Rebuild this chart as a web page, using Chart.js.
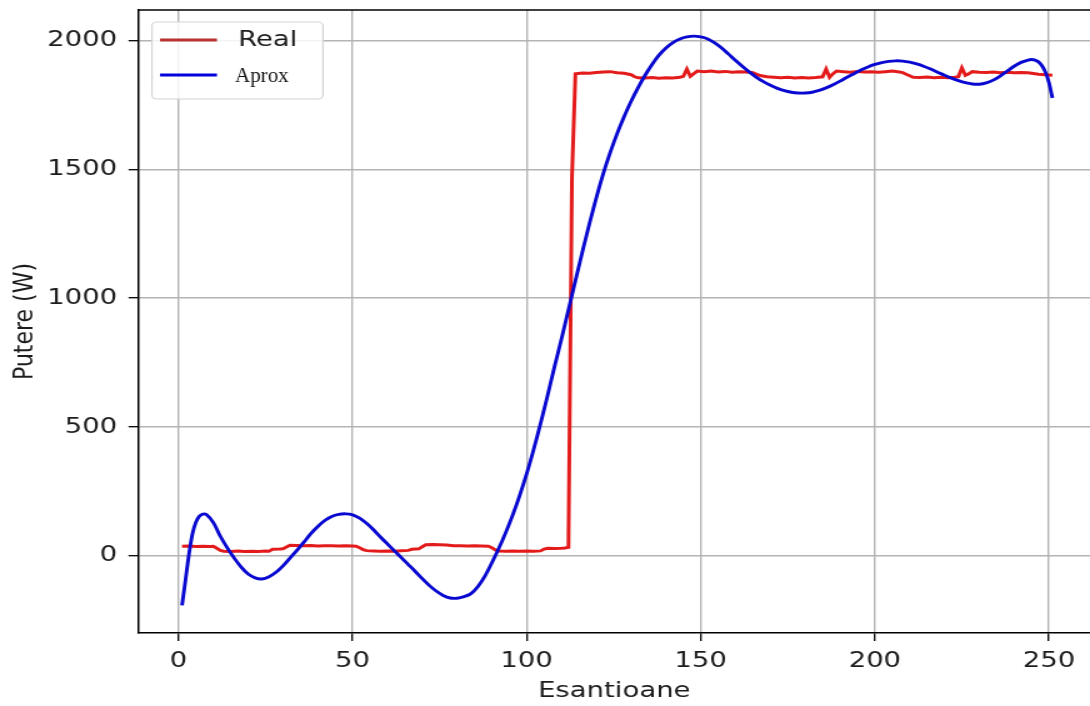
<!DOCTYPE html>
<html>
<head>
<meta charset="utf-8">
<title>Putere</title>
<script src="https://cdn.jsdelivr.net/npm/chart.js@4.4.1/dist/chart.umd.min.js"></script>
<style>
  html, body { margin: 0; padding: 0; background: #fff; overflow: hidden; }
  /* the plot is rendered narrow and widened, like the original figure */
  #powerChart { display: block; transform: scaleX(1.25); transform-origin: 0 0; }
</style>
</head>
<body>
<canvas id="powerChart" width="872" height="706"></canvas>
<script>
// measured power, sample index -> W
const realSamples = [1, 3, 5, 7, 9, 10, 11, 12, 13, 15, 17, 19, 21, 23, 25, 26, 27, 29, 30, 31, 32, 34, 36, 38, 40, 42, 44, 46, 48, 50,
  51, 52, 53, 54, 56, 58, 60, 62, 64, 66, 67, 69, 70, 71, 73, 75, 77, 79, 81, 83, 85, 87, 89, 90, 91, 92, 94, 96, 98, 100,
  102, 104, 105, 106, 108, 110, 111, 112, 113, 114, 116, 118, 120, 122, 124, 126, 128, 130, 131, 132, 134, 136, 138, 140, 142, 144, 145, 146, 147, 148,
  149, 151, 153, 155, 157, 159, 161, 163, 165, 166, 167, 169, 171, 173, 175, 177, 179, 181, 183, 185, 186, 187, 188, 189, 191, 193, 195, 197, 199, 201,
  203, 205, 207, 208, 209, 210, 211, 213, 215, 217, 219, 221, 223, 224, 225, 226, 227, 228, 230, 232, 234, 236, 238, 240, 242, 244, 245, 247, 249, 251];
const realPower = [36, 37, 35, 36, 35, 36, 28, 20, 17, 16, 18, 16, 17, 16, 18, 17, 24, 25, 26, 33, 40, 39, 38, 39, 37, 38, 38, 37, 38, 37,
  36, 30, 23, 19, 18, 17, 18, 17, 19, 20, 24, 26, 34, 42, 43, 42, 41, 38, 38, 37, 38, 37, 36, 30, 22, 18, 17, 18, 17, 18,
  17, 18, 25, 28, 27, 28, 29, 32, 1470, 1872, 1875, 1874, 1877, 1879, 1880, 1876, 1874, 1868, 1860, 1856, 1855, 1857, 1854, 1856, 1855, 1858, 1862, 1890, 1862, 1872,
  1882, 1880, 1882, 1879, 1881, 1878, 1880, 1879, 1876, 1870, 1865, 1860, 1858, 1856, 1858, 1855, 1857, 1855, 1857, 1860, 1890, 1858, 1872, 1882, 1880, 1878, 1881, 1879, 1880, 1878,
  1880, 1882, 1879, 1876, 1870, 1864, 1858, 1857, 1859, 1856, 1858, 1856, 1858, 1860, 1895, 1866, 1872, 1880, 1878, 1877, 1879, 1876, 1878, 1876, 1877, 1876, 1874, 1870, 1868, 1866];

// approximation curve
const aproxSamples = [1, 2, 3, 4, 5, 6, 7, 8, 10, 12, 14, 16, 18, 20, 22, 24, 26, 28, 30, 32, 34, 36, 38, 40, 42, 44, 46, 48, 50,
  52, 54, 56, 58, 60, 62, 64, 66, 68, 70, 72, 74, 76, 78, 80, 82, 84, 86, 88, 90, 92, 94, 96, 98, 100,
  102, 104, 106, 108, 110, 112, 114, 116, 118, 120, 122, 124, 126, 128, 130, 132, 134, 136, 138, 140, 142, 144, 146, 148, 150,
  152, 154, 156, 158, 160, 162, 164, 166, 168, 170, 172, 174, 176, 178, 180, 182, 184, 186, 188, 190, 192, 194, 196, 198, 200,
  202, 204, 206, 208, 210, 212, 214, 216, 218, 220, 222, 224, 226, 228, 230, 232, 234, 236, 238, 240, 242, 244, 245, 246, 247, 248, 249, 250, 251];
const aproxPower = [-194, -95, 5, 85, 130, 153, 161, 159, 128, 75, 30, -10, -45, -72, -87, -91, -82, -65, -40, -10, 20, 52, 85, 113, 136, 152, 160, 162, 158,
  145, 125, 100, 72, 45, 18, -8, -35, -62, -90, -116, -138, -155, -165, -166, -160, -148, -120, -80, -28, 28, 90, 158, 234, 318,
  412, 514, 622, 734, 842, 955, 1068, 1180, 1288, 1390, 1484, 1566, 1640, 1706, 1765, 1818, 1866, 1908, 1944, 1972, 1993, 2007, 2015, 2018, 2015,
  2007, 1992, 1972, 1948, 1923, 1900, 1878, 1858, 1841, 1827, 1815, 1806, 1800, 1797, 1797, 1800, 1807, 1817, 1829, 1843, 1858, 1872, 1886, 1898, 1908,
  1915, 1920, 1922, 1921, 1917, 1910, 1901, 1890, 1878, 1866, 1855, 1845, 1837, 1832, 1831, 1836, 1847, 1863, 1882, 1901, 1916, 1925, 1927, 1925, 1918, 1903, 1878, 1838, 1778];

const xTickValues = [0, 50, 100, 150, 200, 250];
const yTickValues = [0, 500, 1000, 1500, 2000];
const xLimits = [-11.5, 261.8];
const yLimits = [-301, 2119.5];
const xTitle = 'Esantioane';
const yTitle = 'Putere (W)';
const legendNames = ['Real', 'Aprox'];

const textColor = '#1c1c1c';
const tickFont = { family: 'DejaVu Sans', size: 22 };

function toPoints(xs, ys) {
  return xs.map((x, i) => ({ x: x, y: ys[i] }));
}

function fixedTicks(values) {
  return function (scale) {
    scale.ticks = values.map(v => ({ value: v }));
  };
}

// top spine + hand drawn legend (the two labels use different fonts)
const frameAndLegend = {
  id: 'frameAndLegend',
  afterDraw(chart) {
    const ctx = chart.ctx;
    const area = chart.chartArea;
    ctx.save();
    ctx.strokeStyle = '#000';
    ctx.lineWidth = 1.5;
    ctx.beginPath();
    ctx.moveTo(area.left, area.top);
    ctx.lineTo(area.right, area.top);
    ctx.stroke();

    // legend box
    const bx = 121.6, by = 22, bw = 136.8, bh = 77;
    ctx.fillStyle = 'rgba(255,255,255,0.85)';
    ctx.strokeStyle = '#d4d4d4';
    ctx.lineWidth = 1.2;
    ctx.beginPath();
    ctx.roundRect(bx, by, bw, bh, 4);
    ctx.fill();
    ctx.stroke();

    ctx.lineWidth = 3;
    ctx.strokeStyle = '#b83232';
    ctx.beginPath();
    ctx.moveTo(128, 40);
    ctx.lineTo(173.6, 40);
    ctx.stroke();
    ctx.strokeStyle = '#0000dd';
    ctx.beginPath();
    ctx.moveTo(128, 75);
    ctx.lineTo(173.6, 75);
    ctx.stroke();

    ctx.fillStyle = textColor;
    ctx.textBaseline = 'middle';
    ctx.textAlign = 'left';
    ctx.font = '22px "DejaVu Sans"';
    ctx.fillText(legendNames[0], 190.4, 40);

    // serif label is not widened
    ctx.translate(188, 76);
    ctx.scale(0.8, 1);
    ctx.fillStyle = '#111';
    ctx.font = '21px "Liberation Serif"';
    ctx.fillText(legendNames[1], 0, 0);
    ctx.restore();
  }
};

const ctx = document.getElementById('powerChart').getContext('2d');
new Chart(ctx, {
  type: 'line',
  data: {
    datasets: [{
      label: legendNames[0],
      data: toPoints(realSamples, realPower),
      borderColor: '#e31b1b',
      borderWidth: 3,
      tension: 0,
      order: 2
    }, {
      label: legendNames[1],
      data: toPoints(aproxSamples, aproxPower),
      borderColor: '#0808d0',
      borderWidth: 2.9,
      tension: 0.3,
      order: 1
    }]
  },
  options: {
    responsive: false,
    animation: false,
    layout: { padding: { top: 10, left: 0, right: 0, bottom: 0 } },
    elements: { point: { radius: 0 } },
    plugins: {
      legend: { display: false },
      tooltip: { enabled: false }
    },
    scales: {
      x: {
        type: 'linear',
        min: xLimits[0],
        max: xLimits[1],
        afterBuildTicks: fixedTicks(xTickValues),
        afterFit(scale) {
          scale.height = 73;
          scale.paddingLeft = 0;
          scale.paddingRight = 0;
        },
        ticks: { font: tickFont, color: textColor, padding: 7, maxRotation: 0, callback: v => String(v) },
        grid: { color: '#b4b4b4', lineWidth: 1.4, tickColor: '#000', tickLength: 8, tickWidth: 1.3 },
        border: { color: '#000', width: 1.5 },
        title: { display: true, text: xTitle, font: tickFont, color: textColor, padding: { top: 0, bottom: 2 } }
      },
      y: {
        type: 'linear',
        min: yLimits[0],
        max: yLimits[1],
        afterBuildTicks: fixedTicks(yTickValues),
        afterFit(scale) {
          scale.width = 110.8;
          scale.paddingTop = 0;
          scale.paddingBottom = 0;
        },
        ticks: { font: tickFont, color: textColor, padding: 9, callback: v => String(v) },
        grid: { color: '#b4b4b4', lineWidth: 1.4, tickColor: '#000', tickLength: 8, tickWidth: 1.3 },
        border: { color: '#000', width: 1.5 },
        title: { display: true, text: yTitle, font: tickFont, color: textColor, padding: { top: 7, bottom: 0 } }
      }
    }
  },
  plugins: [frameAndLegend]
});
</script>
</body>
</html>
